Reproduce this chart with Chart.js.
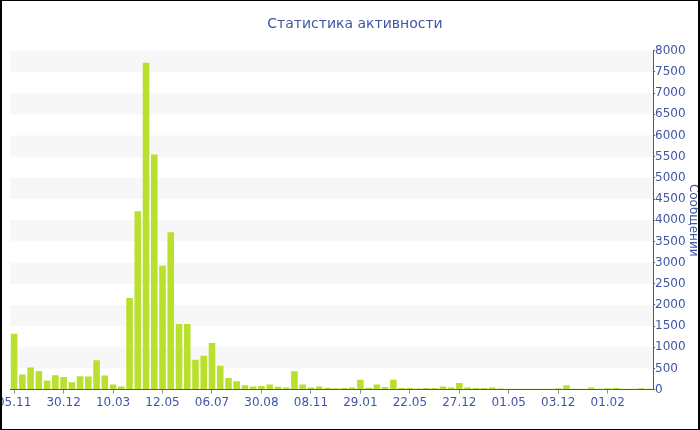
<!DOCTYPE html>
<html lang="ru">
<head>
    <meta charset="UTF-8">
    <title>Статистика активности</title>
    <script src="https://cdn.jsdelivr.net/npm/chart.js"></script>
    <style>
        body { margin: 0; background: #fff; }
        #wrap { position: relative; width: 700px; height: 430px; }
        #frame { position: absolute; left: 0; top: 0; width: 700px; height: 430px; box-sizing: border-box;
                 border: 1px solid #000; border-left-width: 2px; border-right-width: 2px; pointer-events: none; }
    </style>
</head>
<body>
    <div id="wrap">
        <canvas id="activityChart" width="700" height="430"></canvas>
        <div id="frame"></div>
    </div>

    <script>
        // Подписи оси X (каждая шестая неделя)
        const tickLabels = ['05.11', '30.12', '10.03', '12.05', '06.07', '30.08', '08.11',
                            '29.01', '22.05', '27.12', '01.05', '03.12', '01.02'];

        // Количество сообщений по периодам
        const messages = [
            1320, 354, 519, 440, 212, 338, 299, 173, 314, 307, 692, 330, 118, 71,
            2160, 4213, 7718, 5549, 2924, 3718, 1548, 1548, 707, 802, 1100, 566, 275, 195,
            102, 71, 86, 118, 67, 51, 436, 118, 47, 71, 43, 31, 39, 51,
            232, 43, 118, 59, 232, 39, 39, 24, 39, 39,
            71, 47, 157, 47, 39, 39, 47, 24, 20, 20, 20, 20, 20, 20,
            31, 102, 20, 20, 47, 20, 31, 39, 20, 20, 31, 20
        ];

        const labelStep = 6;
        const categories = messages.map((v, i) => i % labelStep === 0 ? (tickLabels[i / labelStep] || '') : '');

        const blue = '#3f57a3';

        // Полосы фона через каждые 500
        const bands = {
            id: 'bands',
            beforeDraw(chart) {
                const { ctx, chartArea, scales } = chart;
                const y = scales.y;
                ctx.save();
                ctx.fillStyle = '#f7f7f7';
                for (let v = 500; v < y.max; v += 1000) {
                    const top = y.getPixelForValue(v + 500);
                    const bottom = y.getPixelForValue(v);
                    ctx.fillRect(chartArea.left, top, chartArea.right - chartArea.left, bottom - top);
                }
                ctx.restore();
            }
        };

        new Chart(document.getElementById('activityChart'), {
            type: 'bar',
            data: {
                labels: categories,
                datasets: [{
                    label: 'Сообщений',
                    data: messages,
                    backgroundColor: '#b9e02d',
                    barPercentage: 0.8,
                    categoryPercentage: 1.0
                }]
            },
            options: {
                responsive: false,
                animation: false,
                layout: { padding: { left: 10, right: 0, top: 0, bottom: 18 } },
                plugins: {
                    legend: { display: false },
                    tooltip: { enabled: false },
                    title: {
                        display: true,
                        text: 'Статистика активности',
                        color: blue,
                        font: { family: 'DejaVu Sans', size: 14, weight: 'normal' },
                        padding: { top: 16, bottom: 18 }
                    }
                },
                scales: {
                    x: {
                        afterFit(scale) { scale.paddingLeft = 0; scale.paddingRight = 0; },
                        border: { color: blue, width: 1 },
                        grid: {
                            offset: false,
                            drawOnChartArea: false,
                            tickLength: 4,
                            tickColor: c => c.index % labelStep === 0 ? '#909090' : 'rgba(0,0,0,0)'
                        },
                        ticks: {
                            autoSkip: false,
                            maxRotation: 0,
                            padding: 2,
                            color: blue,
                            font: { family: 'DejaVu Sans', size: 12 }
                        }
                    },
                    y: {
                        position: 'right',
                        min: 0,
                        max: 8000,
                        border: { color: blue, width: 1 },
                        grid: {
                            drawOnChartArea: false,
                            tickLength: 2,
                            tickColor: c => c.tick && c.tick.value % 500 === 0 ? blue : '#9aa5c8'
                        },
                        ticks: {
                            stepSize: 250,
                            padding: 0,
                            color: blue,
                            font: { family: 'DejaVu Sans', size: 12 },
                            callback: v => v % 500 === 0 ? v : ''
                        },
                        title: {
                            display: true,
                            text: 'Сообщений',
                            color: blue,
                            font: { family: 'DejaVu Sans', size: 12 },
                            padding: { top: 0, bottom: 0 }
                        }
                    }
                }
            },
            plugins: [bands]
        });
    </script>
</body>
</html>
